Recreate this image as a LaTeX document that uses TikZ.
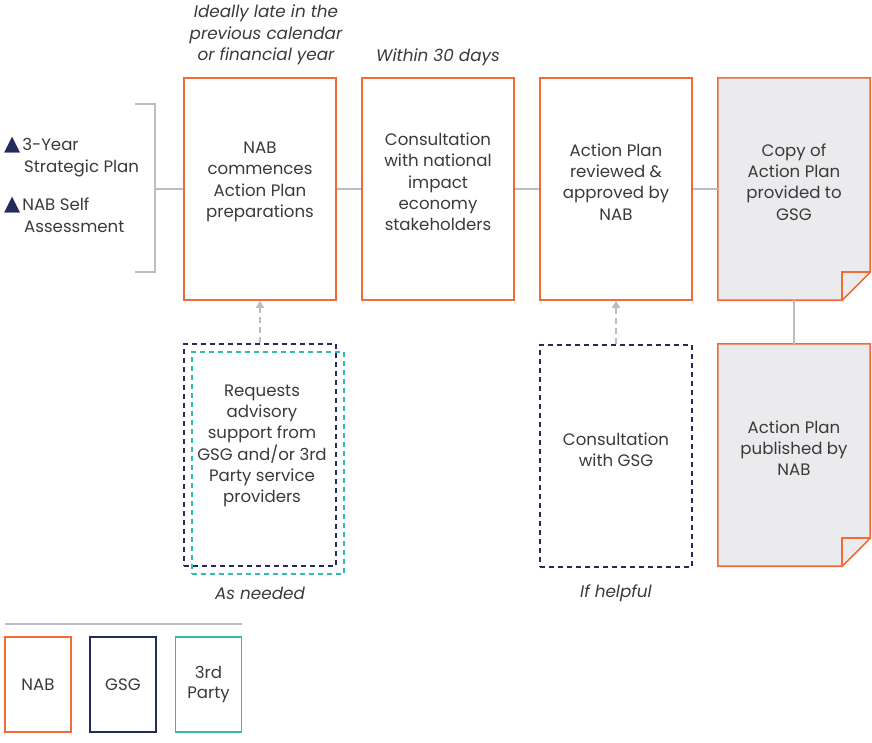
\documentclass[tikz,border=0pt]{standalone}
\usepackage{fontspec}
\setmainfont{Poppins}
\newfontfamily\symfont{DejaVu Sans}
\usetikzlibrary{arrows.meta,calc}
\definecolor{nabor}{HTML}{F26A35}
\definecolor{gsgnavy}{HTML}{232B5E}
\definecolor{tpteal}{HTML}{2EBDAB}
\definecolor{lgrey}{HTML}{BDBDC1}
\definecolor{pfill}{HTML}{EBEBEE}
\definecolor{txt}{HTML}{3A3A3A}
\tikzset{
  base/.style={minimum width=152pt,minimum height=222pt,inner sep=0pt},
  nabbox/.style={base,draw=nabor,line width=1.6pt},
  gsgbox/.style={base,draw=gsgnavy,dash pattern=on 5pt off 4pt,line width=1.3pt},
  tpbox/.style={base,draw=tpteal,dash pattern=on 5pt off 4pt,line width=1.3pt},
  docbox/.style={base},
  lbl/.style={text=txt,font=\fontsize{16.6}{21.3}\selectfont,align=center,inner sep=0pt},
  conn/.style={draw=lgrey,line width=2.5pt},
  dasharr/.style={draw=lgrey,line width=2pt,dash pattern=on 6pt off 4pt,-{Triangle[length=7pt,width=8pt]}},
  note/.style={text=txt,font=\fontsize{16.8}{21.5}\selectfont\itshape,align=center},
  side/.style={text=txt,font=\fontsize{16.6}{22}\selectfont,align=left,anchor=west,inner sep=0pt},
  legbox/.style={inner sep=0pt,minimum width=66pt,minimum height=95pt,line width=1.6pt,align=center,text=txt,font=\fontsize{16.6}{19.5}\selectfont}
}
\newcommand{\tri}{{\symfont\color{gsgnavy}\fontsize{21}{21}\selectfont▲}\kern2pt}
\begin{document}
\begin{tikzpicture}[x=1pt,y=-1pt]
\useasboundingbox (0,0) rectangle (872,742);
% top notes
\node[note] (n1) at (266,35) {Ideally late in the\\previous calendar\\or financial year};
\node[note] (n2) at (438,57) {Within 30 days};
% main boxes
\node[nabbox] (a) at (260,189) {};
\node[nabbox] (b) at (438,189) {};
\node[nabbox] (c) at (616,189) {};
\node[lbl] (at) at (260,182) {NAB\\commences\\Action Plan\\preparations};
\node[lbl] (bt) at (438,182) {Consultation\\with national\\impact\\economy\\stakeholders};
\node[lbl] (ct) at (616,182) {Action Plan\\reviewed \&\\approved by\\NAB};
% doc boxes
\node[docbox] (d) at (794,189) {};
\node[docbox] (e) at (794,455) {};
\foreach \n in {d,e}{
  \fill[pfill] (\n.north west) -- (\n.north east) -- ($(\n.south east)+(0,-28)$) -- ($(\n.south east)+(-28,0)$) -- (\n.south west) -- cycle;
  \draw[nabor,line width=1.6pt,line join=miter] ($(\n.south east)+(0,-28)$) -- (\n.north east) -- (\n.north west) -- (\n.south west) -- ($(\n.south east)+(-28,0)$) -- cycle;
  \draw[nabor,line width=1.6pt] ($(\n.south east)+(-28,0)$) -- ($(\n.south east)+(-28,-28)$) -- ($(\n.south east)+(0,-28)$);
}
\node[lbl] (dt) at (794,182) {Copy of\\Action Plan\\provided to\\GSG};
\node[lbl] (et) at (794,448) {Action Plan\\published by\\NAB};
% connectors
\draw[conn] (a.east) -- (b.west);
\draw[conn] (b.east) -- (c.west);
\draw[conn] (c.east) -- (d.west);
\draw[conn] (d.south) -- (e.north);
% bracket
\coordinate (bkt) at (135,104);
\coordinate (bkb) at (135,272);
\coordinate (bm) at (155,189);
\draw[conn,line join=miter] (bkt) -- (155,104) -- (155,272) -- (bkb);
\draw[conn] (bm) -- (a.west);
% side text
\node[side] (s1) at (4,157) {\tri 3-Year\\\hspace*{20pt}Strategic Plan};
\node[side] (s2) at (4,214.5) {\tri NAB Self\\\hspace*{20pt}Assessment};
% support boxes
\node[gsgbox] (f) at (260,455) {};
\node[tpbox] (g) at (268,463) {};
\node[lbl] (ft) at (262,446) {Requests\\advisory\\support from\\GSG and/or 3rd\\Party service\\providers};
\node[gsgbox] (h) at (616,456) {};
\node[lbl] (ht) at (616,449.5) {Consultation\\with GSG};
\draw[dasharr] (f.north) -- (a.south);
\draw[dasharr] (h.north) -- (c.south);
\node[note] (n3) at (260,593) {As needed};
\node[note] (n4) at (616,593) {If helpful};
% legend
\coordinate (l1) at (5,624);
\coordinate (l2) at (242,624);
\draw[conn] (l1) -- (l2);
\node[legbox,draw=nabor] (la) at (38,684.5) {NAB};
\node[legbox,draw=gsgnavy] (lb) at (123,684.5) {GSG};
\node[legbox,draw=tpteal] (lc) at (208.5,684.5) {3rd\\Party};
\end{tikzpicture}
\end{document}
